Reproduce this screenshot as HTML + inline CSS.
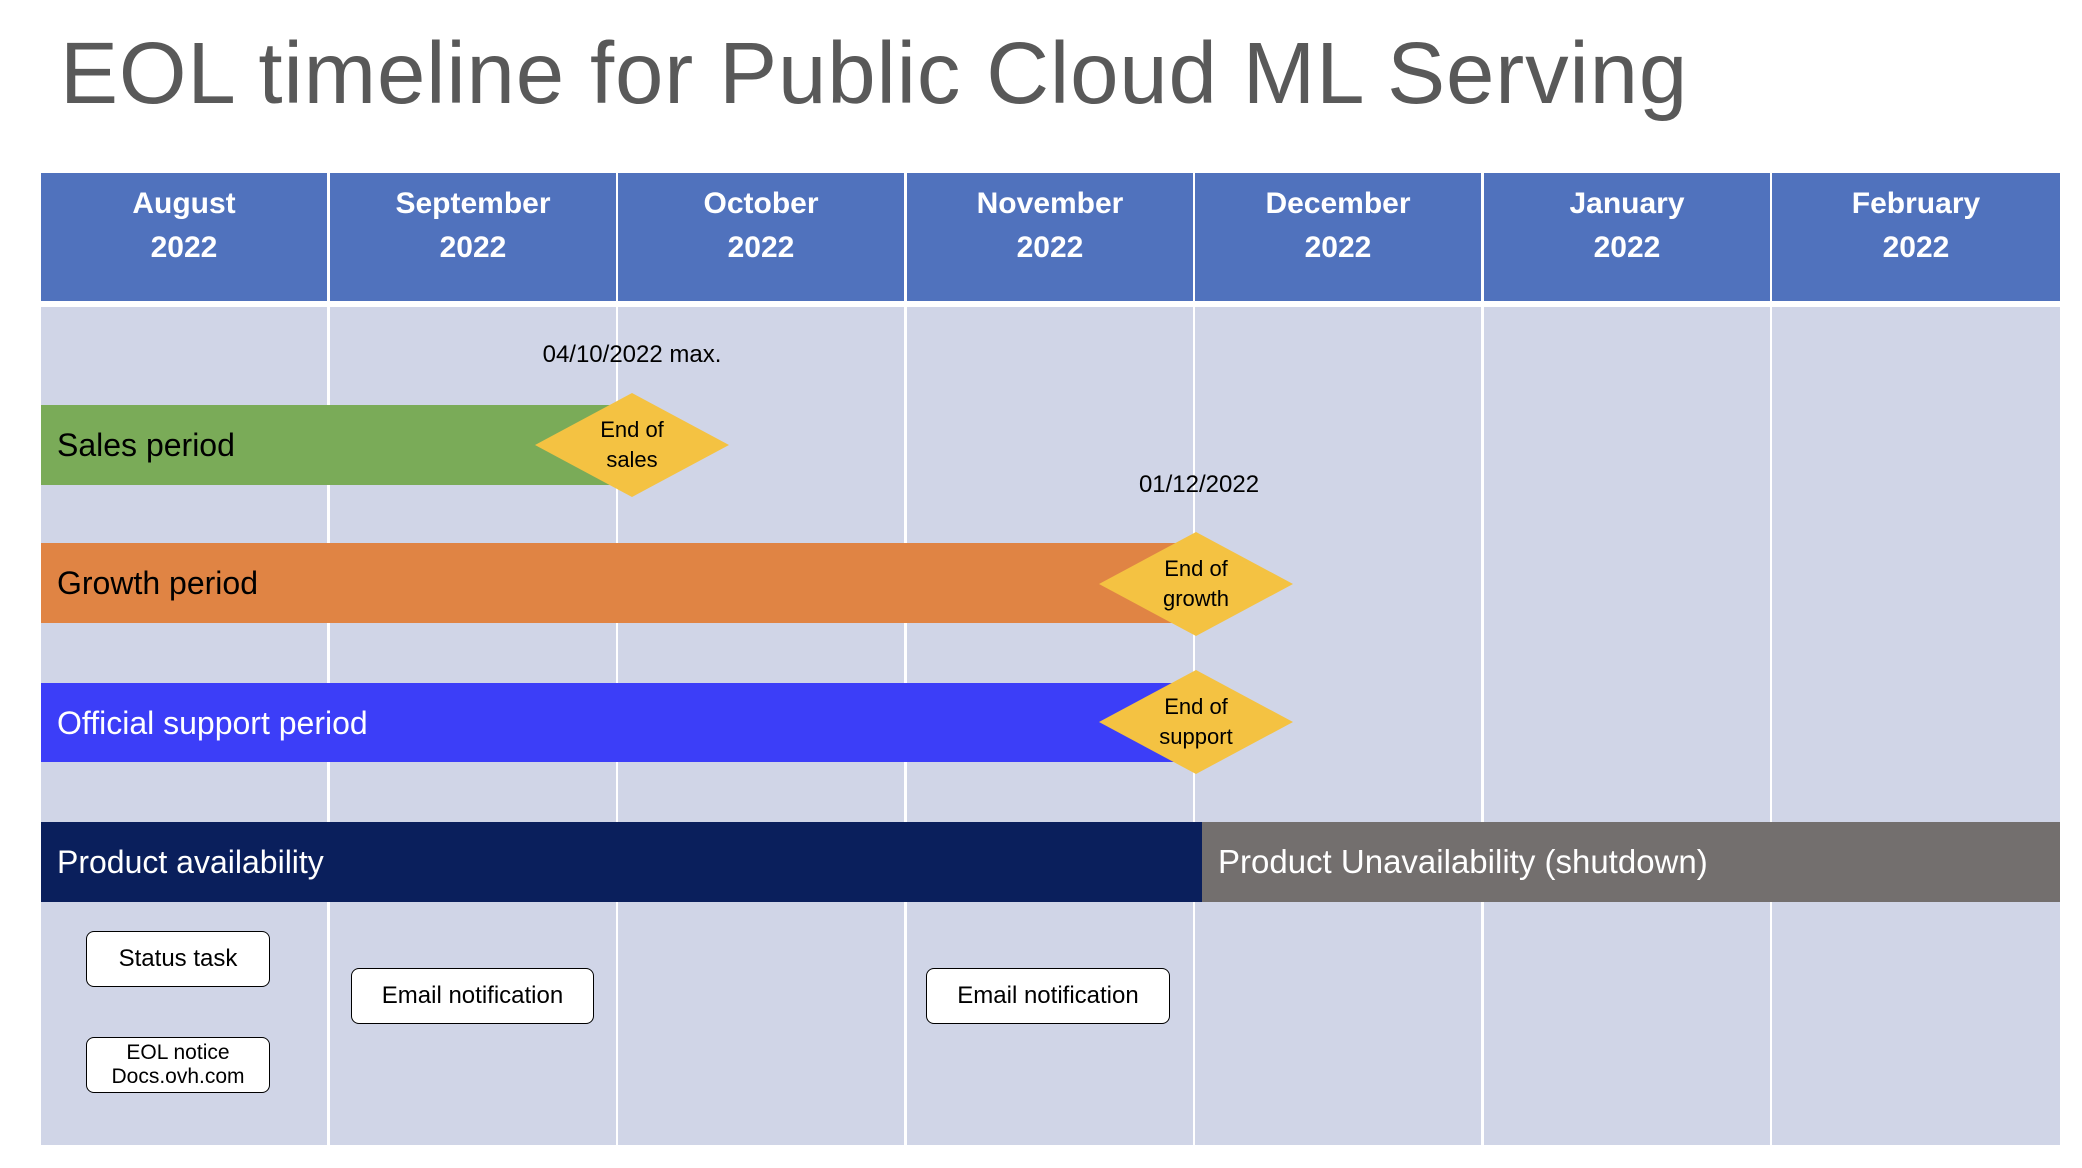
<!DOCTYPE html>
<html><head><meta charset="utf-8"><style>
body{margin:0;width:2082px;height:1168px;background:#fff;position:relative;overflow:hidden;font-family:"Liberation Sans",sans-serif}
.a{position:absolute}
.title{left:60px;top:24px;font-size:87px;color:#595959;white-space:nowrap;letter-spacing:0.85px}
.hd{background:#5072bd;color:#fff;font-weight:bold;font-size:30px;text-align:center;line-height:44px;padding-top:9px;box-sizing:border-box}
.bd{background:#d0d5e7}
.bar{color:#000;font-size:32px;line-height:80px;padding-left:16px;box-sizing:border-box;white-space:nowrap}
.dm{width:194px;height:104px}
.dt{font-size:22px;text-align:center;line-height:30px;width:194px;color:#000}
.box{background:#fff;border:1.5px solid #000;border-radius:8px;box-sizing:border-box;text-align:center;font-size:24px;color:#000;display:flex;align-items:center;justify-content:center;line-height:26px}
.lbl{font-size:24px;color:#000;white-space:nowrap;text-align:center}
</style></head><body>
<div class="a title">EOL timeline for Public Cloud ML Serving</div>

<div class="a hd" style="left:41px;top:173px;width:286px;height:128px">August<br>2022</div>
<div class="a hd" style="left:330px;top:173px;width:286px;height:128px">September<br>2022</div>
<div class="a hd" style="left:618px;top:173px;width:286px;height:128px">October<br>2022</div>
<div class="a hd" style="left:907px;top:173px;width:286px;height:128px">November<br>2022</div>
<div class="a hd" style="left:1195px;top:173px;width:286px;height:128px">December<br>2022</div>
<div class="a hd" style="left:1484px;top:173px;width:286px;height:128px">January<br>2022</div>
<div class="a hd" style="left:1772px;top:173px;width:288px;height:128px">February<br>2022</div>

<div class="a bd" style="left:41px;top:307px;width:286px;height:838px"></div>
<div class="a bd" style="left:330px;top:307px;width:286px;height:838px"></div>
<div class="a bd" style="left:618px;top:307px;width:286px;height:838px"></div>
<div class="a bd" style="left:907px;top:307px;width:286px;height:838px"></div>
<div class="a bd" style="left:1195px;top:307px;width:286px;height:838px"></div>
<div class="a bd" style="left:1484px;top:307px;width:286px;height:838px"></div>
<div class="a bd" style="left:1772px;top:307px;width:288px;height:838px"></div>

<div class="a lbl" style="left:532px;top:341px;width:200px">04/10/2022 max.</div>
<div class="a lbl" style="left:1099px;top:471px;width:200px">01/12/2022</div>

<div class="a bar" style="left:41px;top:405px;width:576px;height:80px;background:#7aab58">Sales period</div>
<div class="a bar" style="left:41px;top:543px;width:1150px;height:80px;background:#e08444">Growth period</div>
<div class="a bar" style="left:41px;top:683px;width:1150px;height:79px;background:#3c3ef8;color:#fff">Official support period</div>
<div class="a bar" style="left:41px;top:822px;width:1161px;height:80px;background:#0a1f5c;color:#fff">Product availability</div>
<div class="a bar" style="left:1202px;top:822px;width:858px;height:80px;background:#736f6e;color:#fff;font-size:33px">Product Unavailability (shutdown)</div>

<svg class="a dm" style="left:535px;top:393px" viewBox="0 0 194 104"><polygon points="97,0 194,52 97,104 0,52" fill="#f4c242"/></svg>
<div class="a dt" style="left:535px;top:415px">End of<br>sales</div>
<svg class="a dm" style="left:1099px;top:532px" viewBox="0 0 194 104"><polygon points="97,0 194,52 97,104 0,52" fill="#f4c242"/></svg>
<div class="a dt" style="left:1099px;top:554px">End of<br>growth</div>
<svg class="a dm" style="left:1099px;top:670px" viewBox="0 0 194 104"><polygon points="97,0 194,52 97,104 0,52" fill="#f4c242"/></svg>
<div class="a dt" style="left:1099px;top:692px">End of<br>support</div>

<div class="a box" style="left:86px;top:931px;width:184px;height:56px">Status task</div>
<div class="a box" style="left:86px;top:1037px;width:184px;height:56px;font-size:21px;line-height:24px">EOL notice<br>Docs.ovh.com</div>
<div class="a box" style="left:351px;top:968px;width:243px;height:56px">Email notification</div>
<div class="a box" style="left:926px;top:968px;width:244px;height:56px">Email notification</div>
</body></html>
